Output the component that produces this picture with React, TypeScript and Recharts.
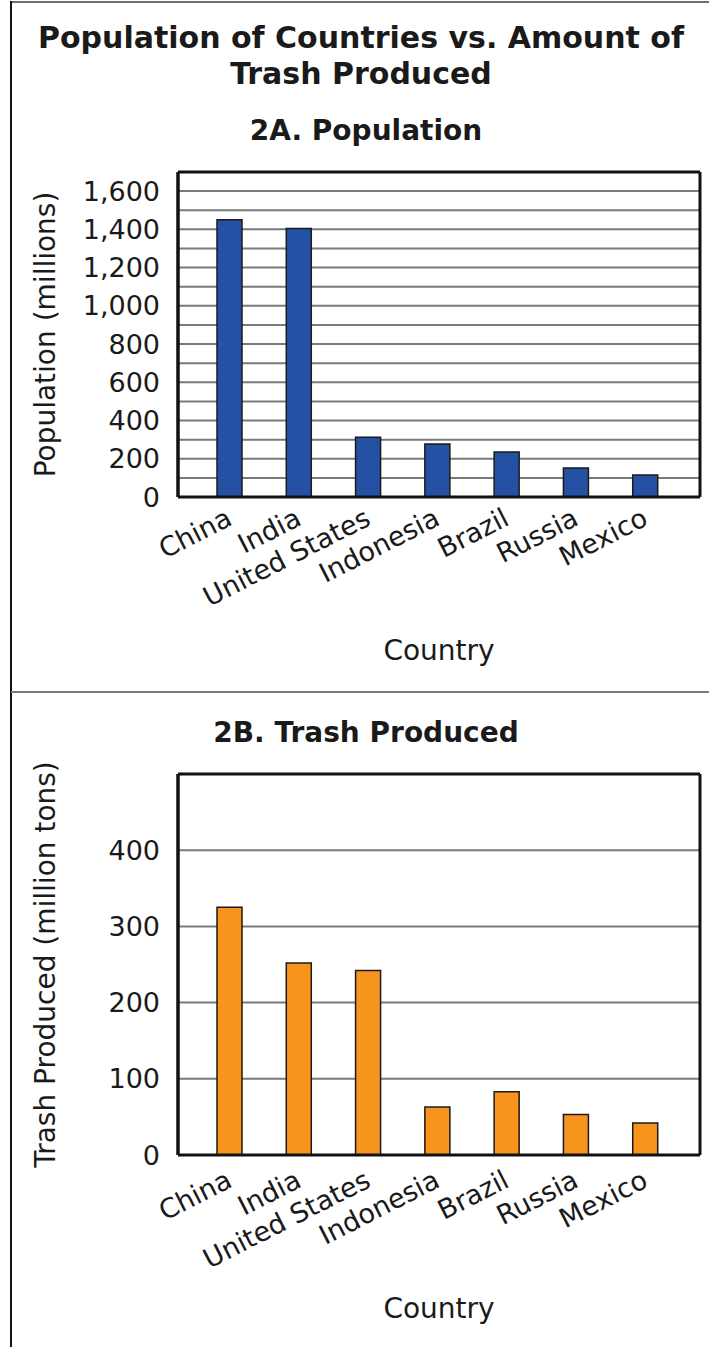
import React from 'react';
import { BarChart, Bar, XAxis, YAxis, CartesianGrid, Label } from 'recharts';

const countries = ['China', 'India', 'United States', 'Indonesia', 'Brazil', 'Russia', 'Mexico'];
const population = [1450, 1404, 312, 277, 236, 152, 115];
const trash = [325, 252, 242, 63, 83, 53, 42];
const populationTicks = [0, 100, 200, 300, 400, 500, 600, 700, 800, 900, 1000, 1100, 1200, 1300, 1400, 1500, 1600];
const trashTicks = [0, 100, 200, 300, 400];

const FONT = '"DejaVu Sans", Verdana, sans-serif';
const TEXT = '#1a1a1a';

const populationData = countries.map((country, i) => ({ country, value: population[i] }));
const trashData = countries.map((country, i) => ({ country, value: trash[i] }));

// rotated category label, anchored at its end just right of the bar
const countryTick = (drop: number) => (props: any) => {
  const { x, y, payload } = props;
  return (
    <g transform={`translate(${x + 4},${y + drop})`}>
      <text x={0} y={0} textAnchor="end" transform="rotate(-27)" fontSize={27} fontFamily={FONT} fill={TEXT}>
        {payload.value}
      </text>
    </g>
  );
};

const yLabel = (text: string) => (props: any) => {
  const vb = props.viewBox;
  const cy = vb.y + vb.height / 2;
  return (
    <text x={55} y={cy} textAnchor="middle" transform={`rotate(-90, 55, ${cy})`} fontSize={28} fontFamily={FONT} fill={TEXT}>
      {text}
    </text>
  );
};

const xLabel = (drop: number) => (props: any) => {
  const vb = props.viewBox;
  return (
    <text x={vb.x + vb.width / 2} y={vb.y + drop} textAnchor="middle" fontSize={28} fontFamily={FONT} fill={TEXT}>
      Country
    </text>
  );
};

const thousands = (v: number) => (v % 200 === 0 ? v.toLocaleString('en-US') : '');

// frame edges taken from the chart's own plot offset
const sideEdges = ({ offset, width }: any) => [offset.left, width - offset.right];
const topEdge = ({ offset }: any) => [offset.top];

const CountryChart = ({ data, max, ticks, fill, tickFormatter, yText, top, plotHeight, height, tickDrop, labelDrop }: any) => (
  <BarChart
    width={709}
    height={height}
    data={data}
    margin={{ top, right: 9, bottom: 0, left: 0 }}
    barSize={25}
  >
    <CartesianGrid vertical={false} stroke="#7a7a7a" strokeWidth={2} />
    <CartesianGrid horizontal={false} stroke="#111" strokeWidth={3} verticalCoordinatesGenerator={sideEdges} />
    <CartesianGrid vertical={false} stroke="#111" strokeWidth={3} horizontalCoordinatesGenerator={topEdge} />
    <XAxis
      dataKey="country"
      interval={0}
      height={height - top - plotHeight}
      padding={{ left: 17, right: 20 }}
      axisLine={{ stroke: '#111', strokeWidth: 3 }}
      tickLine={false}
      tickSize={0}
      tickMargin={0}
      tick={countryTick(tickDrop)}
    >
      <Label content={xLabel(labelDrop)} />
    </XAxis>
    <YAxis
      width={178}
      domain={[0, max]}
      ticks={ticks}
      interval={0}
      allowDataOverflow
      tickFormatter={tickFormatter}
      axisLine={{ stroke: '#111', strokeWidth: 3 }}
      tickLine={false}
      tickSize={0}
      tickMargin={18}
      tick={{ fontSize: 27, fontFamily: FONT, fill: TEXT }}
    >
      <Label content={yLabel(yText)} />
    </YAxis>
    <Bar dataKey="value" fill={fill} stroke="#1a1a1a" strokeWidth={1.5} isAnimationActive={false} />
  </BarChart>
);

export default function App() {
  return (
    <div style={{ position: 'absolute', left: 0, top: 0, width: 709, height: 1347, background: '#fff', overflow: 'hidden' }}>
      <svg width={709} height={1347} style={{ position: 'absolute', left: 0, top: 0 }}>
        <line x1={11} y1={2} x2={709} y2={2} stroke="#6e6e6e" strokeWidth={2} />
        <line x1={11} y1={1} x2={11} y2={1347} stroke="#111" strokeWidth={2} />
        <line x1={11} y1={692} x2={709} y2={692} stroke="#7a7a7a" strokeWidth={2} />
        <text x={361} y={48} textAnchor="middle" fontSize={30} fontWeight="bold" fontFamily={FONT} fill={TEXT}>
          Population of Countries vs. Amount of
        </text>
        <text x={361} y={84} textAnchor="middle" fontSize={30} fontWeight="bold" fontFamily={FONT} fill={TEXT}>
          Trash Produced
        </text>
        <text x={366} y={140} textAnchor="middle" fontSize={28} fontWeight="bold" fontFamily={FONT} fill={TEXT}>
          2A. Population
        </text>
        <text x={366} y={742} textAnchor="middle" fontSize={28} fontWeight="bold" fontFamily={FONT} fill={TEXT}>
          2B. Trash Produced
        </text>
      </svg>
      <div style={{ position: 'absolute', left: 0, top: 0 }}>
        <CountryChart
          data={populationData}
          max={1700}
          ticks={populationTicks}
          fill="#2451a3"
          tickFormatter={thousands}
          yText="Population (millions)"
          top={172}
          plotHeight={325}
          height={692}
          tickDrop={27}
          labelDrop={163}
        />
      </div>
      <div style={{ position: 'absolute', left: 0, top: 692 }}>
        <CountryChart
          data={trashData}
          max={500}
          ticks={trashTicks}
          fill="#f7941e"
          tickFormatter={(v: number) => String(v)}
          yText="Trash Produced (million tons)"
          top={82}
          plotHeight={381}
          height={655}
          tickDrop={31}
          labelDrop={163}
        />
      </div>
    </div>
  );
}
